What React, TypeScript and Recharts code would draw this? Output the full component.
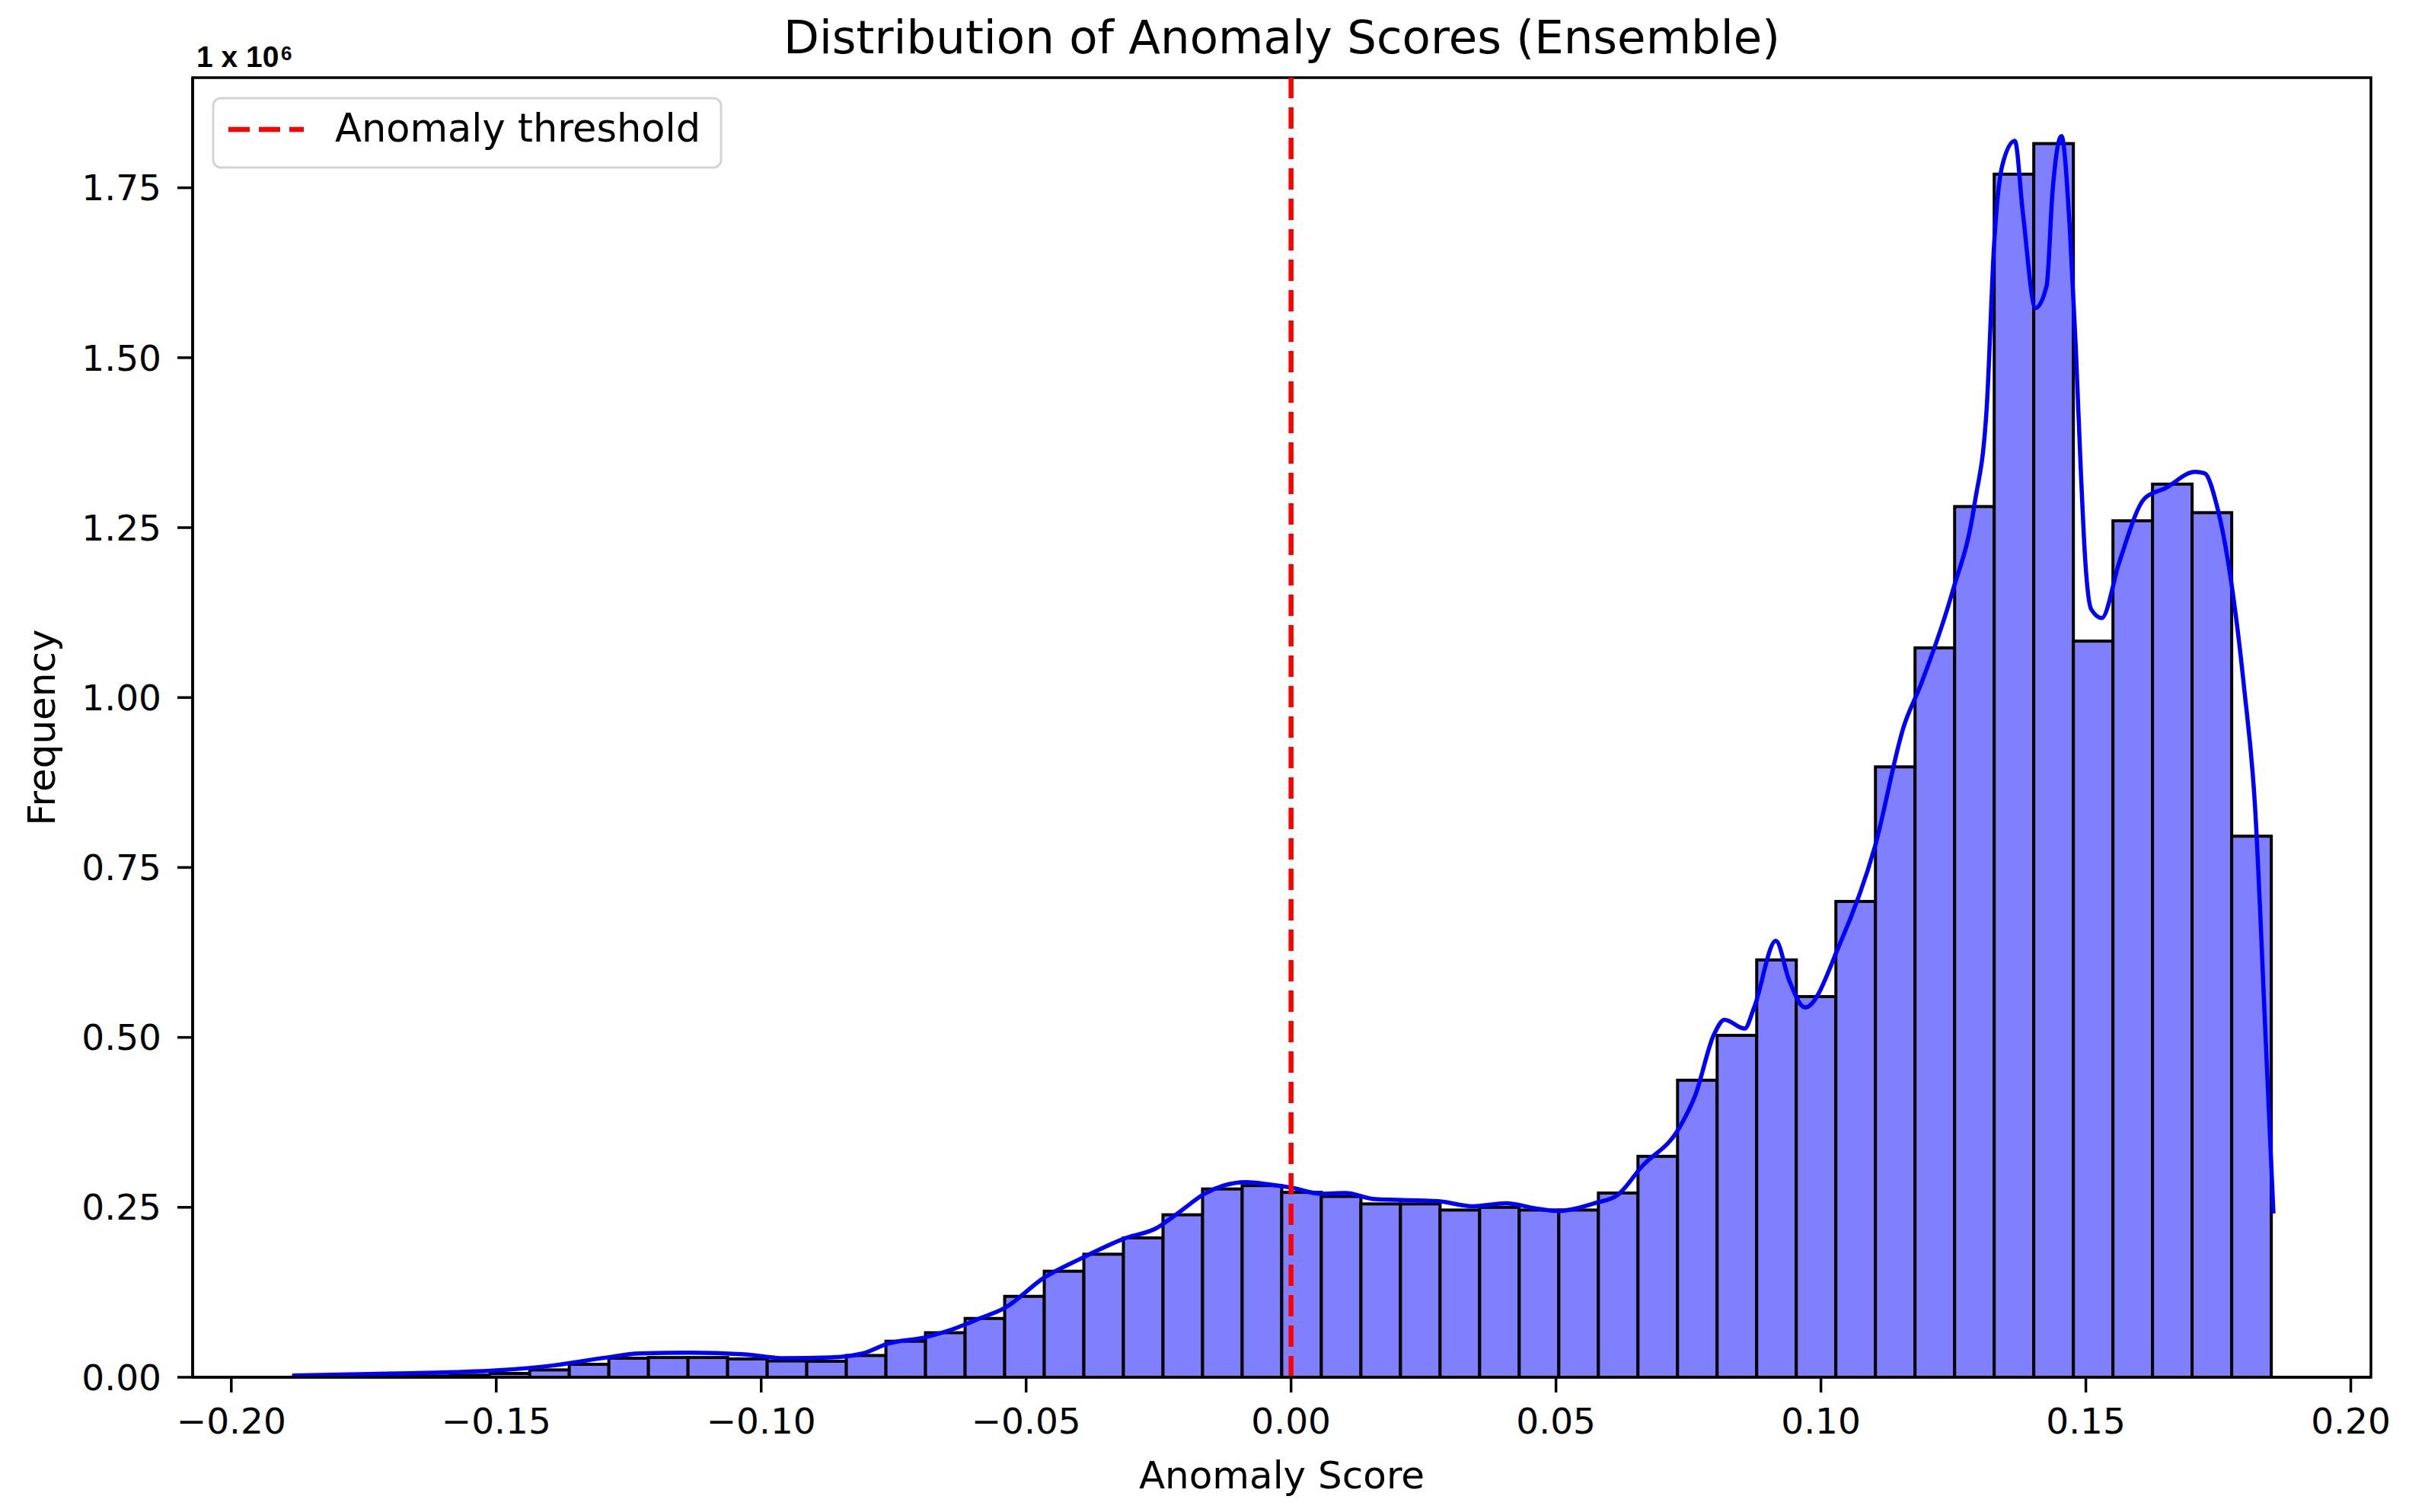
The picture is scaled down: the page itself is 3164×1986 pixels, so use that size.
import React from "react";
import {
  ComposedChart,
  Bar,
  Line,
  XAxis,
  YAxis,
  ReferenceLine,
  ReferenceArea,
} from "recharts";

// histogram bins (bin centre, count)
const binCenters = [
  -0.18477, -0.1773, -0.16983, -0.16236, -0.15489, -0.14742, -0.13995, -0.13248,
  -0.12501, -0.11754, -0.11007, -0.1026, -0.09513, -0.08766, -0.08019, -0.07272,
  -0.06525, -0.05778, -0.05031, -0.04284, -0.03537, -0.0279, -0.02043, -0.01296,
  -0.00549, 0.00198, 0.00945, 0.01692, 0.02439, 0.03186, 0.03933, 0.0468,
  0.05427, 0.06174, 0.06921, 0.07668, 0.08415, 0.09162, 0.09909, 0.10656,
  0.11403, 0.1215, 0.12897, 0.13644, 0.14391, 0.15138, 0.15885, 0.16632,
  0.17379, 0.18126,
];
const binCounts = [
  300, 600, 1000, 1800, 3000, 5600, 10800, 19000,
  28000, 29000, 29000, 27000, 24000, 23500, 32000, 53000,
  65500, 86500, 119000, 156000, 181000, 205000, 239000, 277000,
  282000, 272000, 266000, 255000, 255000, 246000, 250000, 246000,
  246000, 271000, 325000, 437000, 503000, 614000, 560000, 700000,
  898000, 1073000, 1281000, 1770000, 1815000, 1083000, 1260000, 1314000,
  1272000, 796000,
];

// kde curve
const kdeX = [
  -0.1885, -0.1681, -0.15, -0.1391, -0.1295, -0.123, -0.1134, -0.1037, -0.0955,
  -0.0871, -0.081, -0.076, -0.0689, -0.0641, -0.0586, -0.054, -0.0467, -0.0393,
  -0.0315, -0.0255, -0.0209, -0.0163, -0.0127, -0.0085, -0.0044, 0, 0.0057,
  0.0103, 0.0158, 0.0278, 0.0342, 0.0406, 0.0461, 0.0503, 0.0575, 0.0616, 0.0662,
  0.0732, 0.0763, 0.0798, 0.0818, 0.0856, 0.0874, 0.0915, 0.094, 0.097, 0.1036,
  0.1102, 0.1157, 0.1188, 0.1248, 0.129, 0.1313, 0.1327, 0.1342, 0.1366, 0.1381,
  0.1405, 0.1426, 0.1437, 0.1454, 0.147, 0.1481, 0.149, 0.1499, 0.151, 0.153,
  0.1563, 0.1611, 0.165, 0.1706, 0.1724, 0.1747, 0.1799, 0.1819, 0.1839, 0.1854,
];
const kdeY = [
  2600, 5600, 10000, 17500, 28700, 35000, 36000, 34000, 28000,
  29000, 34700, 49600, 59000, 70000, 87000, 102000, 146000, 176000,
  204000, 219000, 244000, 270000, 282000, 287000, 284000, 279000, 270000,
  271000, 262000, 259000, 251500, 256000, 248500, 244700, 256500, 268000, 310000,
  366000, 415000, 504000, 526000, 513000, 544000, 642000, 584000, 544000, 638000,
  781000, 959000, 1018000, 1155000, 1285000, 1428000, 1669000, 1782000, 1819000, 1714000,
  1573000, 1606000, 1743000, 1826000, 1686000, 1515000, 1343000, 1200000, 1130000, 1117000,
  1199000, 1293000, 1308000, 1332000, 1330000, 1283000, 1012000, 843000, 504000, 241000,
];

const xTicks = [-0.2, -0.15, -0.1, -0.05, 0, 0.05, 0.1, 0.15, 0.2];
const yTicks = [0, 250000, 500000, 750000, 1000000, 1250000, 1500000, 1750000];
const threshold = 0;
const binWidth = 0.00747;

const W = 3164;
const H = 1986;
const X_MIN = -0.2073;
const X_MAX = 0.2038;
const Y_MAX = 1912000;
const PLOT_LEFT = 253;
const PLOT_RIGHT = 3114;
const PLOT_TOP = 102;
const PLOT_BOTTOM = 1809;
const BIN_PX = (binWidth / (X_MAX - X_MIN)) * (PLOT_RIGHT - PLOT_LEFT);

const FONT = "'DejaVu Sans', sans-serif";

const histData = binCenters.map((c, i) => ({ score: c, count: binCounts[i] }));
const kdeData = kdeX.map((x, i) => ({ score: x, density: kdeY[i] }));

const fmtX = (v: number) =>
  v < 0 ? "\u2212" + Math.abs(v).toFixed(2) : v.toFixed(2);
const fmtY = (v: number) => (v / 1e6).toFixed(2);

const HistBar = (props: any) => {
  const { x, y, width, height } = props;
  if (height == null || isNaN(height)) return null;
  const cx = x + width / 2;
  return (
    <rect
      x={cx - BIN_PX / 2}
      y={y}
      width={BIN_PX}
      height={Math.max(height, 0)}
      fill="#8080ff"
      stroke="#000"
      strokeWidth={4}
    />
  );
};

const axisStroke = { stroke: "#000", strokeWidth: 3.5 };
const tickStyle = { fill: "#000", fontSize: 47, fontFamily: FONT };

export default function App() {
  return (
    <div style={{ position: "absolute", left: 0, top: 0, width: W, height: H, background: "#fff" }}>
      <ComposedChart
        width={W}
        height={H}
        data={histData}
        margin={{ top: PLOT_TOP, right: W - PLOT_RIGHT, bottom: 0, left: 0 }}
      >
        <XAxis
          dataKey="score"
          type="number"
          domain={[X_MIN, X_MAX]}
          allowDataOverflow
          ticks={xTicks}
          tickFormatter={fmtX}
          height={H - PLOT_BOTTOM}
          tickSize={20}
          tickMargin={21}
          axisLine={axisStroke}
          tickLine={axisStroke}
          tick={tickStyle}
          label={(p: any) => {
            const vb = p.viewBox;
            return (
              <text
                x={vb.x + vb.width / 2}
                y={vb.y + 146}
                textAnchor="middle"
                fontSize={50}
                fontFamily={FONT}
                fill="#000"
              >
                Anomaly Score
              </text>
            );
          }}
        />
        <YAxis
          type="number"
          domain={[0, Y_MAX]}
          allowDataOverflow
          ticks={yTicks}
          tickFormatter={fmtY}
          width={PLOT_LEFT}
          tickSize={20}
          tickMargin={21}
          axisLine={axisStroke}
          tickLine={axisStroke}
          tick={tickStyle}
          label={(p: any) => {
            const vb = p.viewBox;
            const cy = vb.y + vb.height / 2;
            return (
              <text
                x={72}
                y={cy}
                textAnchor="middle"
                fontSize={50}
                fontFamily={FONT}
                fill="#000"
                transform={`rotate(-90, 72, ${cy})`}
              >
                Frequency
              </text>
            );
          }}
        />
        <Bar
          dataKey="count"
          barSize={20}
          shape={HistBar}
          isAnimationActive={false}
        />
        <Line
          data={kdeData}
          dataKey="density"
          type="monotone"
          stroke="#0000ff"
          strokeWidth={5.5}
          dot={false}
          activeDot={false}
          isAnimationActive={false}
        />
        <ReferenceLine
          x={threshold}
          stroke="#ff0000"
          strokeWidth={6.5}
          strokeDasharray="28 12"
        />
        {/* axes frame (top / right spines) */}
        <ReferenceArea
          x1={X_MIN}
          x2={X_MAX}
          y1={0}
          y2={Y_MAX}
          fill="none"
          fillOpacity={0}
          stroke="#000"
          strokeWidth={3.5}
          strokeOpacity={1}
        />
      </ComposedChart>
      <svg
        width={W}
        height={H}
        style={{ position: "absolute", left: 0, top: 0, pointerEvents: "none" }}
      >
        <text
          x={(PLOT_LEFT + PLOT_RIGHT) / 2}
          y={70}
          textAnchor="middle"
          fontSize={61}
          fontFamily={FONT}
          fill="#000"
        >
          Distribution of Anomaly Scores (Ensemble)
        </text>
        <text
          x={258}
          y={88}
          fontSize={39}
          fontWeight="bold"
          fontFamily="'Liberation Sans', sans-serif"
          fill="#000"
        >
          1 x 10
        </text>
        <text
          x={369}
          y={79}
          fontSize={26}
          fontWeight="bold"
          fontFamily="'Liberation Sans', sans-serif"
          fill="#000"
        >
          6
        </text>
        <rect
          x={280}
          y={129}
          width={667}
          height={91}
          rx={10}
          fill="#fff"
          fillOpacity={0.8}
          stroke="#d4d4d4"
          strokeWidth={3}
        />
        <line
          x1={300}
          y1={170}
          x2={399}
          y2={170}
          stroke="#ff0000"
          strokeWidth={6.5}
          strokeDasharray="28 12"
        />
        <text x={440} y={186} fontSize={51} fontFamily={FONT} fill="#000">
          Anomaly threshold
        </text>
      </svg>
    </div>
  );
}
